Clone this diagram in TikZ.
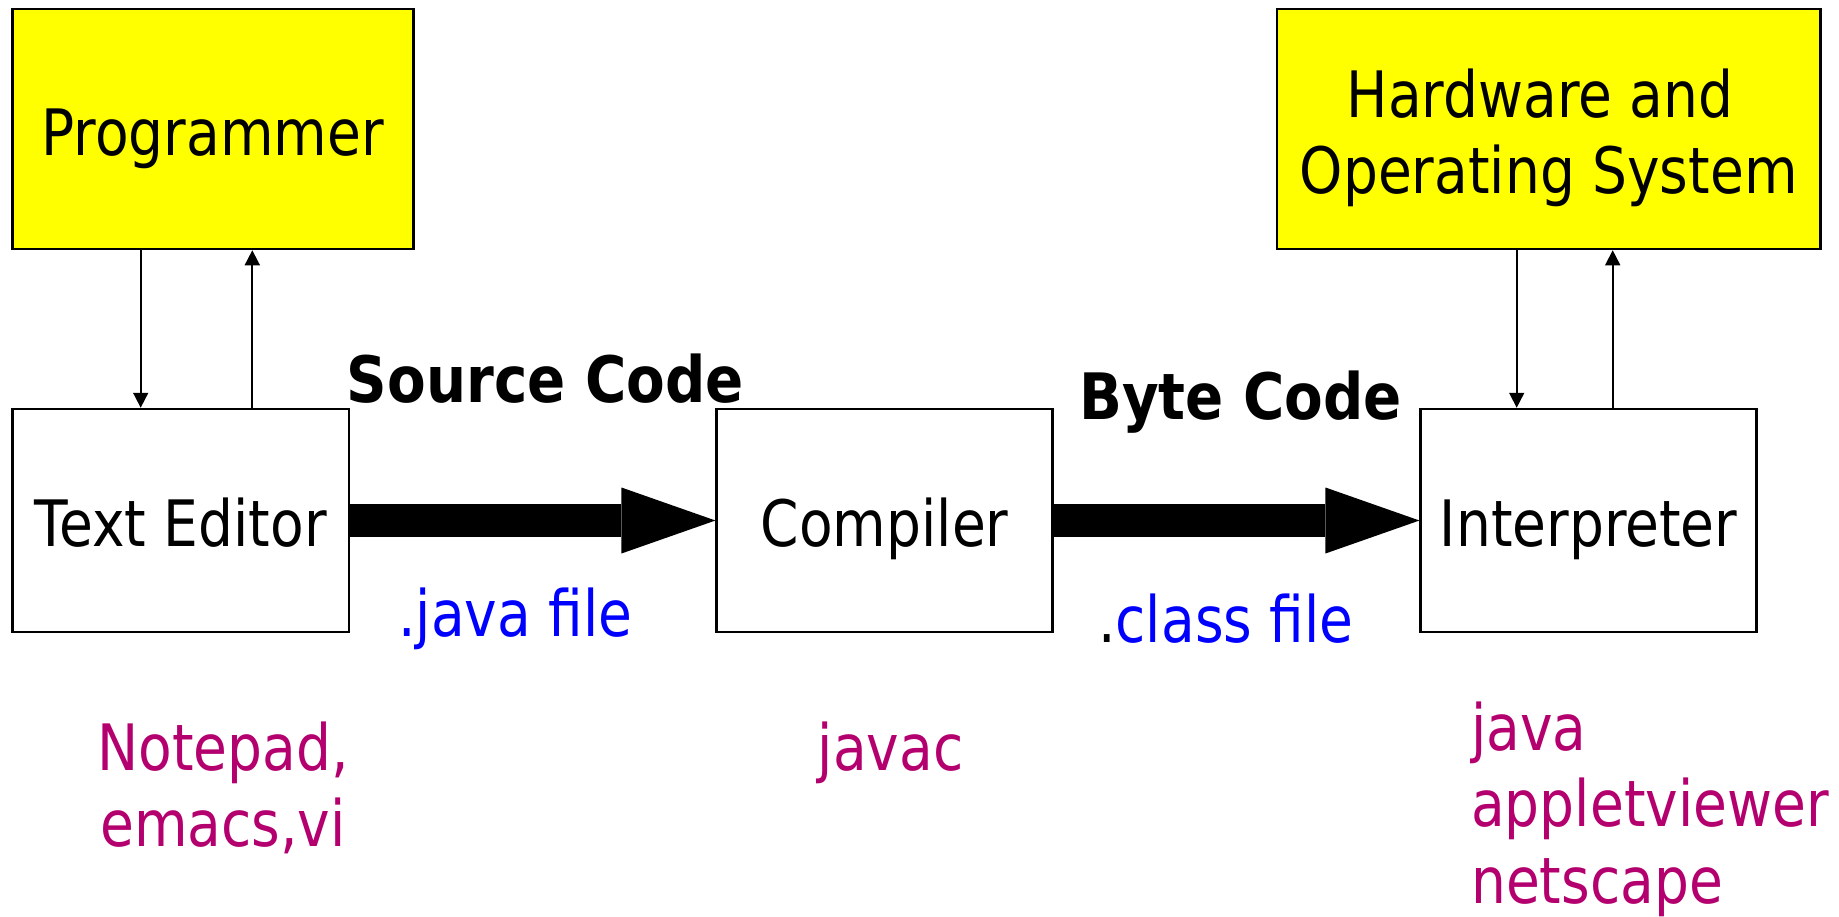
\documentclass[tikz,border=0pt]{standalone}
\usepackage{fontspec}
\setmainfont{DejaVu Sans}[FakeStretch=0.86]
\newfontfamily\boldfnt{DejaVu Sans}[FakeStretch=0.88]
\usetikzlibrary{arrows.meta}
\definecolor{ppyellow}{RGB}{255,255,0}
\definecolor{ppblue}{RGB}{0,0,255}
\definecolor{pppurple}{RGB}{180,0,110}
\begin{document}
\begin{tikzpicture}[x=1pt,y=-1pt,
  big/.style={font=\fontsize{64}{76.5}\selectfont},
  box/.style={big, draw=black, line width=2.5pt, inner sep=0pt, fill=white,
    text height=52pt, text depth=0pt},
  ybox/.style={box, fill=ppyellow},
  lbl/.style={big, inner sep=0pt, anchor=base west},
  thin/.style={line width=1.7pt, -{Triangle[length=15pt,width=15pt]}},
  thick/.style={line width=33pt, -{Triangle[length=94pt,width=66pt,line width=0pt]}}
]
\useasboundingbox (0,0) rectangle (1839,916);

\node[ybox, minimum width=401pt, minimum height=240pt] (prog) at (212.8,129) {Programmer};
\node[ybox, minimum width=543.5pt, minimum height=240pt, align=center,
  text height=129pt, text depth=0pt] (hw) at (1548.75,129) {Hardware and\hspace*{17.5pt}\\Operating System};
\node[box, minimum width=336.3pt, minimum height=223pt] (te) at (180.85,520.5) {Text Editor};
\node[box, minimum width=336pt, minimum height=223pt] (comp) at (884.7,520.5) {Compiler};
\node[box, minimum width=336pt, minimum height=223pt] (interp) at (1588.7,520.5) {Interpreter};

\coordinate (d1) at (140.7,0);
\coordinate (u1) at (252.3,0);
\coordinate (d2) at (1516.7,0);
\coordinate (u2) at (1612.7,0);
\draw[thin] (prog.south -| d1) -- (te.north -| d1);
\draw[thin] (te.north -| u1) -- (prog.south -| u1);
\draw[thin] (hw.south -| d2) -- (interp.north -| d2);
\draw[thin] (interp.north -| u2) -- (hw.south -| u2);

\draw[thick] (te.east) -- (comp.west);
\draw[thick] (comp.east) -- (interp.west);

\node[lbl, font=\boldfnt\bfseries\fontsize{64}{76.5}\selectfont] (src) at (346.7,402.3) {Source Code};
\node[lbl, font=\boldfnt\bfseries\fontsize{64}{76.5}\selectfont] (byte) at (1079,419) {Byte Code};
\node[lbl, text=ppblue] (jf) at (398,636.7) {.java file};
\node[lbl] (cf) at (1098,642.3) {.\textcolor{ppblue}{class file}};

\node[big, inner sep=0pt, anchor=base, align=center, text=pppurple] (np) at (223,846.7) {Notepad,\\emacs,vi};
\node[lbl, anchor=base, text=pppurple] (jc) at (890.7,770.7) {javac};
\node[lbl, align=left, text=pppurple] (jv) at (1471,903) {java\\appletviewer\\netscape};
\end{tikzpicture}
\end{document}
